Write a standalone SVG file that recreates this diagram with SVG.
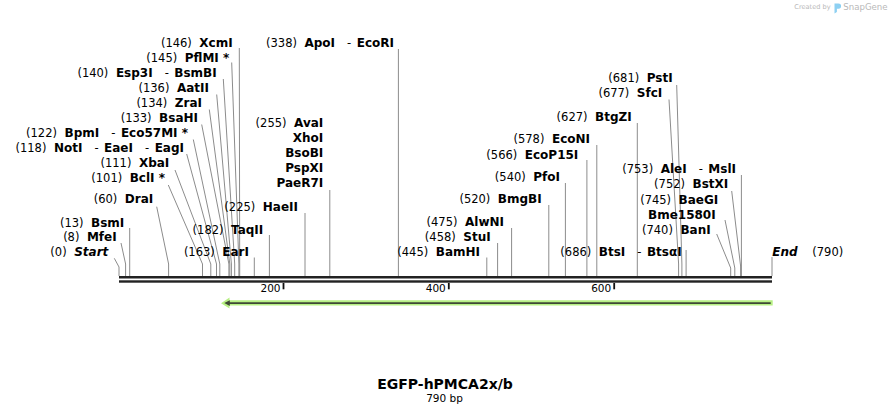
<svg xmlns="http://www.w3.org/2000/svg" width="892" height="415" viewBox="0 0 892 415">
<style>
text{font-family:"DejaVu Sans",Verdana,sans-serif;fill:#000}
.l{font-size:12px;font-weight:bold}
.n{font-size:11.5px;font-weight:normal}
.s{stroke:#8c8c8c;stroke-width:1;fill:none}
.bi{font-weight:bold;font-style:italic;font-size:12px}
.tk{fill:#111}
.wm{fill:#b9b9b9}
</style>
<rect width="892" height="415" fill="#fff"/>
<g id="watermark">
<text class="wm" x="794.3" y="9.3" style="font-size:6.6px">Created by</text>
<path d="M834.5,3.5 h4 a2.6,2.6 0 0 1 0,5.2 h-1.6 v3.3 l-2.4,1.5 z" fill="#8dd0f2"/>
<text class="wm" x="843.3" y="9.6" style="font-size:8.6px">SnapGene</text>
</g>
<g id="connectors">
<polyline class="s" points="239.3,48 239.7,264 239.7,276"/>
<polyline class="s" points="231.7,62.5 238.9,264 238.9,276"/>
<polyline class="s" points="223.3,79 234.7,264 234.7,276"/>
<polyline class="s" points="216.7,94.5 231.4,264 231.4,276"/>
<polyline class="s" points="209.3,109.5 229.8,264 229.8,276"/>
<polyline class="s" points="201.7,124.5 228.9,264 228.9,276"/>
<polyline class="s" points="193.3,139.5 219.8,264 219.8,276"/>
<polyline class="s" points="186.7,154 216.5,264 216.5,276"/>
<polyline class="s" points="175,170 210.8,264 210.8,276"/>
<polyline class="s" points="168.3,185 202.5,264 202.5,276"/>
<polyline class="s" points="156.7,206.7 168.6,264 168.6,276"/>
<polyline class="s" points="121,243 125.6,264 125.6,276"/>
<polyline class="s" points="114.3,258.3 119,267 119,276"/>
<line class="s" x1="129.7" y1="228" x2="129.7" y2="276"/>
<line class="s" x1="305" y1="213" x2="305" y2="276"/>
<line class="s" x1="269.4" y1="235" x2="269.4" y2="276"/>
<line class="s" x1="254.3" y1="257.5" x2="254.3" y2="276"/>
<line class="s" x1="329.8" y1="190" x2="329.8" y2="276"/>
<line class="s" x1="398.4" y1="49" x2="398.4" y2="276"/>
<line class="s" x1="486.8" y1="257.5" x2="486.8" y2="276"/>
<line class="s" x1="497.6" y1="243" x2="497.6" y2="276"/>
<line class="s" x1="511.6" y1="228" x2="511.6" y2="276"/>
<line class="s" x1="548.8" y1="205" x2="548.8" y2="276"/>
<line class="s" x1="565.4" y1="183" x2="565.4" y2="276"/>
<line class="s" x1="586.9" y1="160" x2="586.9" y2="276"/>
<line class="s" x1="596.8" y1="145" x2="596.8" y2="276"/>
<line class="s" x1="637.3" y1="123" x2="637.3" y2="276"/>
<line class="s" x1="686.1" y1="250" x2="686.1" y2="276"/>
<polyline class="s" points="676.7,85 681.9,264 681.9,276"/>
<polyline class="s" points="669,99.5 678.6,264 678.6,276"/>
<line class="s" x1="741.4" y1="175" x2="741.4" y2="276"/>
<polyline class="s" points="731.7,191 740.6,266 740.6,276"/>
<polyline class="s" points="725,220 734.8,268 734.8,276"/>
<polyline class="s" points="716.7,234 730.7,268 730.7,276"/>
<line class="s" x1="772" y1="257" x2="772" y2="276"/>
</g>
<g id="sequence">
<rect x="119" y="276" width="653" height="2.5" fill="#222"/>
<rect x="119" y="280.3" width="653" height="2.4" fill="#222"/>
</g>
<g id="ruler">
<rect class="tk" x="282.6" y="283" width="1.8" height="6.3"/>
<rect class="tk" x="447.9" y="283" width="1.8" height="6.3"/>
<rect class="tk" x="613.3" y="283" width="1.8" height="6.3"/>
<text x="280.5" y="292.3" text-anchor="end" style="font-size:10.5px">200</text>
<text x="445.8" y="292.3" text-anchor="end" style="font-size:10.5px">400</text>
<text x="611.2" y="292.3" text-anchor="end" style="font-size:10.5px">600</text>
</g>
<g id="feature">
<polygon points="772.7,300.3 229.5,300.3 229.5,297.6 221,303.2 229.5,308.6 229.5,305.6 772.7,305.6" fill="#b7f084"/>
<line x1="228" y1="303.1" x2="770.7" y2="303.1" stroke="#3f4936" stroke-width="1.8"/>
<polygon points="224.3,303.1 229.8,300.3 229.8,305.9" fill="#3f4936"/>
</g>
<g id="XcmI"><text class="l" x="232.7" y="46.5" text-anchor="end"><tspan class="n">(146)</tspan><tspan dx="7.5">XcmI</tspan></text></g>
<g id="PflMI"><text class="l" x="229.3" y="61.5" text-anchor="end"><tspan class="n">(145)</tspan><tspan dx="7.5">PflMI *</tspan></text></g>
<g id="Esp3I"><text class="l" x="216.7" y="76.5" text-anchor="end"><tspan class="n">(140)</tspan><tspan dx="7.5">Esp3I</tspan><tspan class="n" dx="12">-</tspan><tspan dx="5.5">BsmBI</tspan></text></g>
<g id="AatII"><text class="l" x="209" y="91.5" text-anchor="end"><tspan class="n">(136)</tspan><tspan dx="7.5">AatII</tspan></text></g>
<g id="ZraI"><text class="l" x="202" y="106.5" text-anchor="end"><tspan class="n">(134)</tspan><tspan dx="7.5">ZraI</tspan></text></g>
<g id="BsaHI"><text class="l" x="198" y="121.5" text-anchor="end"><tspan class="n">(133)</tspan><tspan dx="7.5">BsaHI</tspan></text></g>
<g id="BpmI"><text class="l" x="188" y="136.5" text-anchor="end"><tspan class="n">(122)</tspan><tspan dx="7.5">BpmI</tspan><tspan class="n" dx="12">-</tspan><tspan dx="5.5">Eco57MI *</tspan></text></g>
<g id="NotI"><text class="l" x="184" y="151.5" text-anchor="end"><tspan class="n">(118)</tspan><tspan dx="7.5">NotI</tspan><tspan class="n" dx="12">-</tspan><tspan dx="5.5">EaeI</tspan><tspan class="n" dx="12">-</tspan><tspan dx="5.5">EagI</tspan></text></g>
<g id="XbaI"><text class="l" x="169.3" y="166.5" text-anchor="end"><tspan class="n">(111)</tspan><tspan dx="7.5">XbaI</tspan></text></g>
<g id="BclI"><text class="l" x="165" y="181.5" text-anchor="end"><tspan class="n">(101)</tspan><tspan dx="7.5">BclI *</tspan></text></g>
<g id="DraI"><text class="l" x="153.3" y="203.3" text-anchor="end"><tspan class="n">(60)</tspan><tspan dx="7.5">DraI</tspan></text></g>
<g id="HaeII"><text class="l" x="298" y="211.3" text-anchor="end"><tspan class="n">(225)</tspan><tspan dx="7.5">HaeII</tspan></text></g>
<g id="TaqII"><text class="l" x="263.3" y="233.8" text-anchor="end"><tspan class="n">(182)</tspan><tspan dx="7.5">TaqII</tspan></text></g>
<g id="EarI"><text class="l" x="249" y="256" text-anchor="end"><tspan class="n">(163)</tspan><tspan dx="7.5">EarI</tspan></text></g>
<g id="BsmI"><text class="l" x="124.3" y="226.5" text-anchor="end"><tspan class="n">(13)</tspan><tspan dx="7.5">BsmI</tspan></text></g>
<g id="MfeI"><text class="l" x="116.7" y="241.2" text-anchor="end"><tspan class="n">(8)</tspan><tspan dx="7.5">MfeI</tspan></text></g>
<g id="Start"><text class="l" x="108.3" y="256" text-anchor="end"><tspan class="n">(0)</tspan><tspan class="bi" dx="7.5">Start</tspan></text></g>
<g id="AvaI">
<text class="l" x="323.3" y="126.5" text-anchor="end"><tspan class="n">(255)</tspan><tspan dx="7.5">AvaI</tspan></text>
<text class="l" x="323.3" y="141.5" text-anchor="end">XhoI</text>
<text class="l" x="323.3" y="156.5" text-anchor="end">BsoBI</text>
<text class="l" x="323.3" y="171.5" text-anchor="end">PspXI</text>
<text class="l" x="323.3" y="186.5" text-anchor="end">PaeR7I</text>
</g>
<g id="ApoI"><text class="l" x="394" y="46.5" text-anchor="end"><tspan class="n">(338)</tspan><tspan dx="7.5">ApoI</tspan><tspan class="n" dx="12">-</tspan><tspan dx="5.5">EcoRI</tspan></text></g>
<g id="BamHI"><text class="l" x="480" y="256" text-anchor="end"><tspan class="n">(445)</tspan><tspan dx="7.5">BamHI</tspan></text></g>
<g id="StuI"><text class="l" x="490.7" y="241" text-anchor="end"><tspan class="n">(458)</tspan><tspan dx="7.5">StuI</tspan></text></g>
<g id="AlwNI"><text class="l" x="504" y="226" text-anchor="end"><tspan class="n">(475)</tspan><tspan dx="7.5">AlwNI</tspan></text></g>
<g id="BmgBI"><text class="l" x="541.7" y="203.3" text-anchor="end"><tspan class="n">(520)</tspan><tspan dx="7.5">BmgBI</tspan></text></g>
<g id="PfoI"><text class="l" x="560" y="181" text-anchor="end"><tspan class="n">(540)</tspan><tspan dx="7.5">PfoI</tspan></text></g>
<g id="EcoP15I"><text class="l" x="578.3" y="158.5" text-anchor="end"><tspan class="n">(566)</tspan><tspan dx="7.5">EcoP15I</tspan></text></g>
<g id="EcoNI"><text class="l" x="590" y="143.3" text-anchor="end"><tspan class="n">(578)</tspan><tspan dx="7.5">EcoNI</tspan></text></g>
<g id="BtgZI"><text class="l" x="631.7" y="121" text-anchor="end"><tspan class="n">(627)</tspan><tspan dx="7.5">BtgZI</tspan></text></g>
<g id="BtsI"><text class="l" x="681.7" y="256" text-anchor="end"><tspan class="n">(686)</tspan><tspan dx="7.5">BtsI</tspan><tspan class="n" dx="12">-</tspan><tspan dx="5.5">BtsαI</tspan></text></g>
<g id="PstI"><text class="l" x="672.7" y="82" text-anchor="end"><tspan class="n">(681)</tspan><tspan dx="7.5">PstI</tspan></text></g>
<g id="SfcI"><text class="l" x="662.3" y="97" text-anchor="end"><tspan class="n">(677)</tspan><tspan dx="7.5">SfcI</tspan></text></g>
<g id="AleI"><text class="l" x="736" y="172.5" text-anchor="end"><tspan class="n">(753)</tspan><tspan dx="7.5">AleI</tspan><tspan class="n" dx="12">-</tspan><tspan dx="5.5">MslI</tspan></text></g>
<g id="BstXI"><text class="l" x="728.3" y="188.3" text-anchor="end"><tspan class="n">(752)</tspan><tspan dx="7.5">BstXI</tspan></text></g>
<g id="BaeGI">
<text class="l" x="718.3" y="203.5" text-anchor="end"><tspan class="n">(745)</tspan><tspan dx="7.5">BaeGI</tspan></text>
<text class="l" x="715.7" y="218.5" text-anchor="end">Bme1580I</text>
</g>
<g id="BanI"><text class="l" x="710.7" y="233.5" text-anchor="end"><tspan class="n">(740)</tspan><tspan dx="7.5">BanI</tspan></text></g>
<g id="End">
<text class="bi" x="772.3" y="256">End</text>
<text class="n" x="812.3" y="256">(790)</text>
</g>
<g id="title">
<text x="445" y="389" text-anchor="middle" style="font-size:14px;font-weight:bold">EGFP-hPMCA2x/b</text>
<text x="444.5" y="401.5" text-anchor="middle" style="font-size:10.5px">790 bp</text>
</g>
</svg>
